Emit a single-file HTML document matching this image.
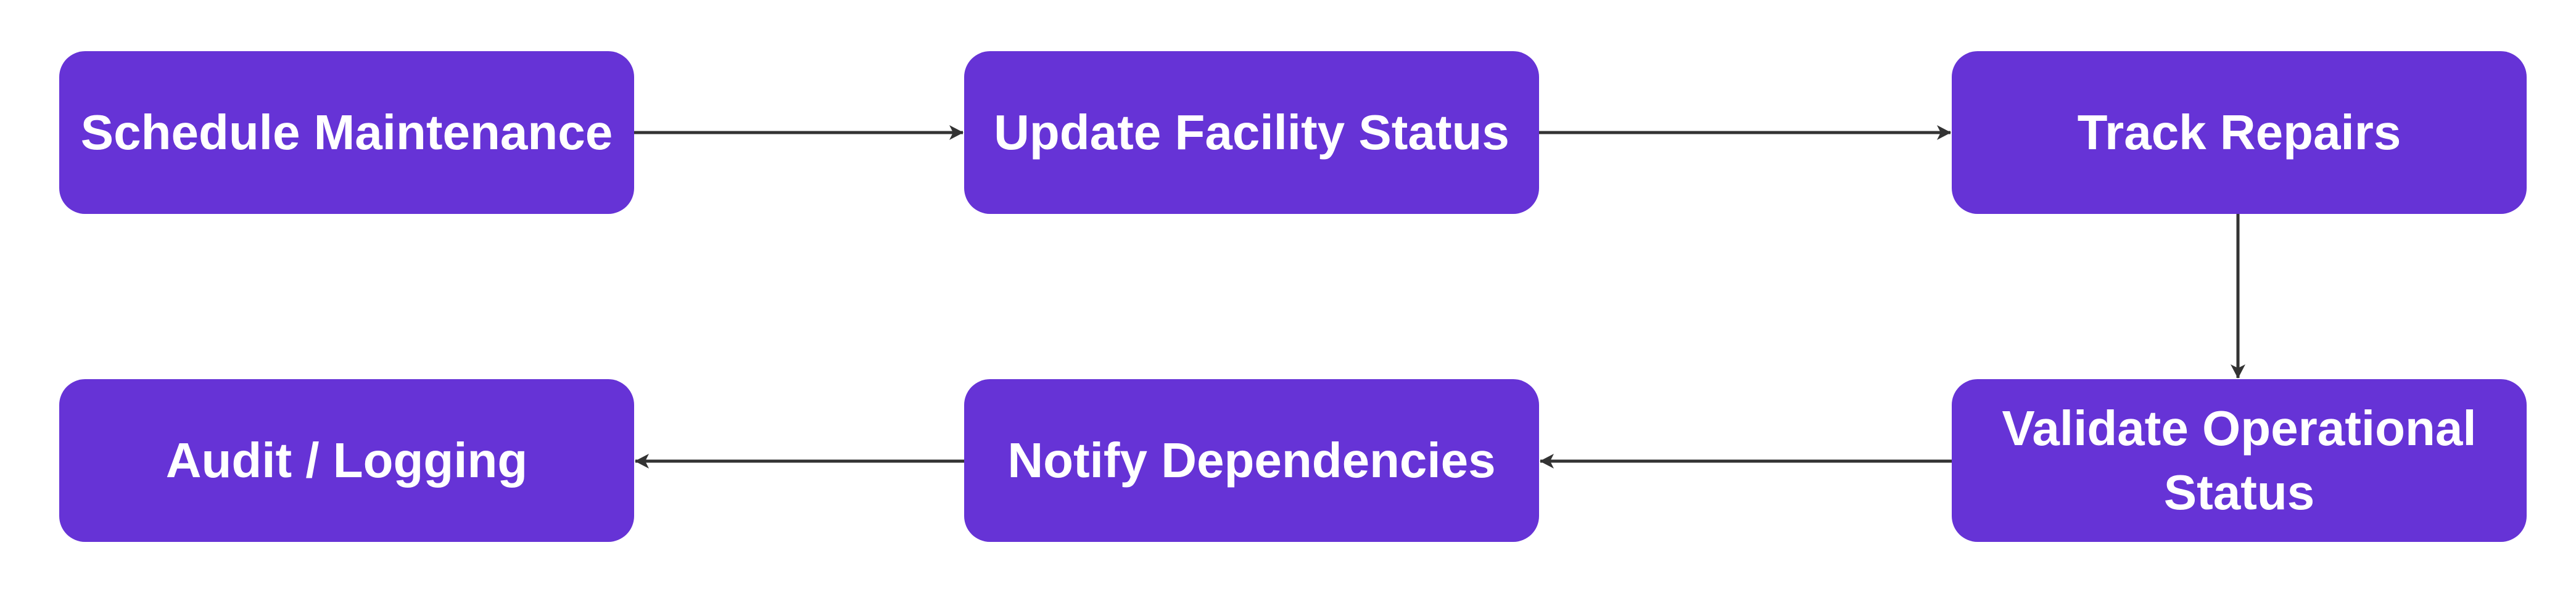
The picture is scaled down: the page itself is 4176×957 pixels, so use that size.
<!DOCTYPE html>
<html><head><style>
body{margin:0;width:4176px;height:957px;background:#fff;position:relative;overflow:hidden;font-family:"Liberation Sans",sans-serif}
.b{position:absolute;width:932px;height:264px;background:#6633d6;border-radius:42px;color:#fff;font-weight:bold;font-size:80px;display:flex;align-items:center;justify-content:center;text-align:center;line-height:1.3}
svg{position:absolute;left:0;top:0}
</style></head><body>
<svg width="4176" height="957">
<defs><marker id="a" markerWidth="30" markerHeight="30" refX="26" refY="15" orient="auto" markerUnits="userSpaceOnUse" viewBox="0 0 30 30"><path d="M4,3 L27,15 L4,27 L10,15 Z" fill="#333"/></marker></defs>
<g stroke="#333" stroke-width="5" fill="none">
<path d="M1028,215 H1561" marker-end="url(#a)"/>
<path d="M2495,215 H3162" marker-end="url(#a)"/>
<path d="M3628,346 V613" marker-end="url(#a)"/>
<path d="M3164,748 H2497" marker-end="url(#a)"/>
<path d="M1563,748 H1030" marker-end="url(#a)"/>
</g></svg>
<div class="b" style="left:96px;top:83px">Schedule Maintenance</div>
<div class="b" style="left:1563px;top:83px">Update Facility Status</div>
<div class="b" style="left:3164px;top:83px">Track Repairs</div>
<div class="b" style="left:96px;top:615px">Audit / Logging</div>
<div class="b" style="left:1563px;top:615px">Notify Dependencies</div>
<div class="b" style="left:3164px;top:615px">Validate Operational<br>Status</div>
</body></html>
